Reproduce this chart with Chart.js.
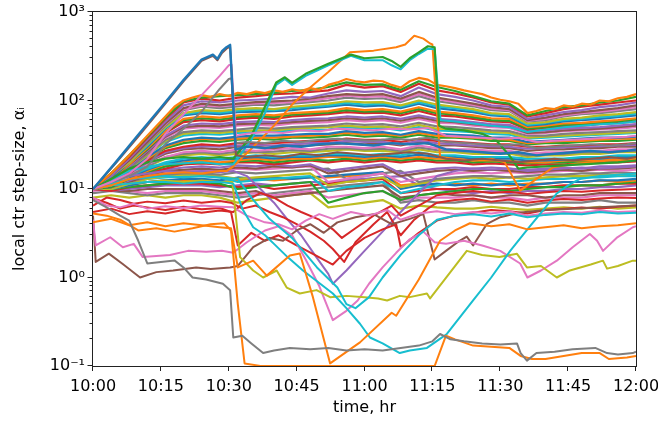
<!DOCTYPE html>
<html>
<head>
<meta charset="utf-8">
<script src="https://cdn.jsdelivr.net/npm/chart.js@4.4.1/dist/chart.umd.min.js"></script>
<style>
    html, body { margin:0; padding:0; background:#fff; }
</style>
</head>
<body>
<canvas id="myChart" width="658" height="423"></canvas>
<script>
// ============================================================
// DATA — minutes after 10:00, local step-size values
// ============================================================

const xTickMinutes = [0, 15, 30, 45, 60, 75, 90, 105, 120];
const yTickValues  = [0.1,0.2,0.3,0.4,0.5,0.6,0.7,0.8,0.9,
                      1,2,3,4,5,6,7,8,9,
                      10,20,30,40,50,60,70,80,90,
                      100,200,300,400,500,600,700,800,900,1000];

// shared time grid for the dense band of features
const bandTimes = [0,4,8,12,16,20,24,28,32,36,40,44,48,52,56,60,64,68,72,76,80,84,88,92,96,100,104,108,112,116,120];

const bandLines = [
    [10,15,24,39,64,98,108,112,115,118,122,128,132,142,160,150,152,132,165,142,128,112,98,92,68,76,84,88,95,100,110],
    [10,15,23,38,62,95,105,100,108,112,118,120,125,130,150,140,145,125,155,130,120,108,95,90,66,72,80,85,90,95,100],
    [10,14,22,36,58,88,98,95,100,102,105,110,108,120,130,125,128,112,140,118,110,100,88,85,62,68,74,78,84,88,95],
    [10,14,21,34,55,82,92,88,92,96,98,100,105,112,118,115,118,105,125,108,100,92,84,80,60,64,70,74,78,82,88],
    [10,14,21,34,54,80,88,86,90,93,94,96,100,106,114,110,112,100,118,104,96,89,81,78,59,62,68,72,75,79,84],
    [10,14,21,33,52,78,85,82,86,90,88,92,96,100,108,104,106,96,112,98,92,86,78,76,58,60,66,70,72,76,80],
    [10,14,20,32,50,72,78,76,80,82,80,85,88,92,98,95,96,88,100,90,85,80,72,70,55,57,62,64,68,70,74],
    [10,14,20,31,49,70,75,73,77,79,78,82,85,88,94,90,92,85,96,86,82,77,70,68,53,56,60,62,65,67,71],
    [10,13,20,30,48,68,72,70,74,75,76,78,82,85,90,86,88,82,92,82,78,74,68,66,52,54,58,60,62,65,68],
    [10,13,19,29,45,62,66,64,68,70,68,72,74,76,82,78,80,75,84,75,72,68,63,62,50,52,55,56,58,60,63],
    [10,13,19,28,44,60,63,61,65,67,65,69,71,73,78,75,76,72,80,72,69,65,60,59,48,50,53,54,56,58,61],
    [10,13,19,28,43,57,60,58,62,64,62,66,68,70,74,72,73,68,76,68,66,62,58,57,47,49,51,52,54,56,58],
    [10,13,18,27,40,52,55,54,57,58,57,60,62,63,66,64,66,62,68,62,60,57,54,53,45,46,48,49,50,52,54],
    [10,12,18,26,39,50,52,51,54,55,55,57,59,60,63,61,63,59,65,59,57,54,52,51,43,44,46,47,48,50,52],
    [10,12,18,26,38,48,50,49,52,53,52,55,56,57,60,58,60,56,62,56,55,52,50,49,42,43,45,46,47,48,50],
    [10,12,17,25,36,44,46,45,47,49,48,50,51,52,55,53,54,51,56,51,50,48,46,45,40,40,42,43,44,45,46],
    [10,12,17,24,35,42,44,43,45,46,46,48,49,50,52,50,51,48,53,48,47,46,44,43,38,39,40,41,42,43,44],
    [10,12,17,24,34,40,42,41,43,44,44,46,46,47,50,48,49,46,50,46,45,44,42,41,37,38,39,40,41,42,43],
    [10,12,16,23,31,36,38,37,39,40,40,41,42,42,45,43,44,41,45,42,41,40,38,38,34,35,36,37,38,38,39],
    [10,12,16,22,30,35,37,36,37,38,38,39,40,41,43,41,42,40,43,40,39,38,37,36,33,34,35,35,36,37,37],
    [10,12,16,22,29,33,35,34,36,37,36,38,38,39,41,39,40,38,41,38,38,37,35,35,32,33,33,34,35,35,36],
    [10,11,15,21,27,30,32,31,33,33,33,34,35,35,37,36,36,34,37,35,34,33,32,32,30,30,31,31,32,32,33],
    [10,11,15,20,26,29,30.5,30,31,31.5,31,32,33,33,35,34,34,32,35,33,32,31,30.5,30,28.5,29,29.5,30,30.5,31,31.5],
    [10,11,15,20,25,28,29,28,30,30,29,31,31,32,33,32,33,31,34,31,31,30,29,29,27,28,28,29,29,30,30],
    [10,11,14,19,23,26,27,26,28,27,28,29,28,30,30,29,30,28,31,29,28,28,27,27,25,26,26,27,27,28,28],
    [10,11,14,18,23,25,26,25,26.5,26,26.5,27.5,27,28.5,29,28,28.5,27,29.5,27.5,27,26.5,26,26,24,25,25,26,26,27,27],
    [10,11,14,18,22,24,25,24,25,26,25,26,26,27,28,27,27,26,28,26,26,25,25,25,23,24,24,25,25,26,26],
    [10,11,14,17,20,22,23,22,23,24,23,24,24,25,25,24,25,24,26,24,24,23,23,23,22,22,22,23,23,24,24],
    [10,11,13.5,16.5,19.5,21,22,21.5,22,23,22,23,23,24,24,23,24,23,24.5,23,23,22,22,22,21,21,21.5,22,22,23,23],
    [10,11,13,16,19,20,21,20,21,22,21,22,22,23,23,22,23,22,23,22,22,21,21,21,20,20,21,21,21,22,22],
    [10,10.5,13,15.5,18,19.5,20,19.5,20.5,21,20,21,21.5,21,22,21,22,21,22,21,21,20,20.5,20,19.5,20,20,20.5,21,21,21.5],
    [10,11,13,15,17,19,19.5,19,20,20,19,20,21,20,21,20,21,20,21,20,20,19,19.5,19,18.5,19,19,19.5,20,20,20.5],
    [10,10.5,12.5,14.5,16.5,17.5,18,17.5,18.5,18,19,18,19,16,17,18,19,15,16,17,17.5,17,17.5,17,16.5,17,17.5,17,18,18,18.5],
    [10,10.5,12,14,16,16.5,17,16.5,17.5,17,18,17.5,18.5,15,16,17,18,14,15,16,16.5,16,16.5,16,15.5,16,16.5,16,17,17,17.5],
    [10,10.5,12,14,15.5,16,16.5,16,17,16.5,17,17.5,18,12,13,14,15,12,13,14,15,15.5,15,15.5,15,15.5,16,16,16.5,16,16.5],
    [10,10.5,12,13.5,14.5,15,15,14.5,15.5,15,15.5,16,16.5,17,13,14,15,16,12,13,13.5,14,14,13.5,14,14.5,14.5,15,15,15.5,15],
    [10,10,11.5,13,14,14.5,14.5,14,13,13.5,14,14.5,15,11,12,12.5,13.5,10.5,11.5,12.5,13,13.5,13,13.5,13,13.5,14,14,14.5,14.5,15],
    [10,10,11.5,13,13.5,14,14,13.5,12,12.5,13,13.5,14,9.5,10.5,11,12,9,10,11,12,12.5,12.5,12,12.5,13,13,13.5,13.5,14,14],
    [10,10,11,12,12.5,13,13,12.5,13.5,13,13.5,13,13.5,14,14.5,15,15.5,10,11,11.5,11,11.5,11,11.5,11,11.5,12,12,12.5,12.5,13],
    [10,10,11,12,12.5,12.5,12.5,12,12.5,13,12.5,13,13.5,13.5,14,14.5,15,11,11.5,11,11.5,11,11.5,11,11.5,11.5,12,12,12.5,12,12.5],
    [10,10,10.5,11,11.5,12,12,11.5,10,10.5,11,11.5,12,7,8,9,9.5,7.5,8.5,9,9.5,10,10,9.5,10,10.5,10.5,11,11,11.5,12],
    [10,9.5,10.5,11,11.5,11.5,11.5,11,10.5,11,10,10.5,11,11.5,12,12.5,13,9,9.5,10,10,10.5,10,10,10.5,10.5,11,11,11,11.5,11.5],
    [10,9.5,10,10.5,11,11,11,10.5,11,11.5,11,11.5,12,12,12.5,13,13.5,14,11,10,9.5,9,9.5,9,9.5,9.5,10,10,10.5,10.5,11],
    [10,9.5,9.5,10,10,10,10,9.5,9,9.5,8,8.5,9,9.5,10,10.5,11,8,8.5,9,8.5,8.5,8,8.5,8.5,8,8.5,8.5,9,9,9],
    [9.5,10,9.5,9,9.5,9.5,9.5,9,8.5,9,8.5,9,9.5,8,8.5,9,9.5,7.5,8,8,8,8.5,8,8,7.5,8,8,8,8.5,8.5,8.5],
    [9,9.5,9,8.5,9,9,9,8.5,8,8.5,9,9.5,10,10.5,11,11.5,12,7,7.5,7,7,7.5,7,7,6.5,7,7,7,7.5,7,7],
    [8,8.5,8,8.5,8,8.5,8.5,8,7,7.5,8,8.5,9,6.2,6.6,7,7.5,6,6.5,6.2,6,6,6.3,6,5.8,6,6.2,6,6.3,6,6.2]
];

// individual features, [minute, value]
const topLine = [[0,10],[4,15],[8,24],[12,40],[16,66],[18,85],[20,100],[22,108],[24,115],[26,110],[28,118],[30,112],[32,122],[34,118],[36,126],[38,121],[40,130],[42,125],[44,134],[46,128],[48,138],[50,132],[52,150],[54,160],[56,175],[58,165],[60,160],[62,168],[64,165],[66,150],[68,140],[70,165],[72,180],[74,172],[76,150],[78,145],[80,138],[82,130],[84,124],[86,118],[88,108],[90,102],[92,98],[94,92],[96,72],[98,76],[100,82],[102,80],[104,88],[106,85],[108,92],[110,90],[112,100],[114,98],[116,106],[118,110],[120,118]];
const blueSpike = [[0,10],[5,20],[10,41],[15,83],[20,170],[24,290],[26.5,330],[27.5,295],[28.5,360],[29.5,400],[30.3,425],[31.5,28],[34,30],[38,29],[42,31],[46,30],[50,32],[54,33],[58,32],[62,31],[66,33],[70,32],[74,33],[78,28],[82,27],[86,26],[90,25],[94,26],[98,24],[102,25],[106,26],[110,27],[114,26],[118,27],[120,28]];
const brownSpike = [[0,10],[5,19.5],[10,39],[15,80],[20,165],[24,280],[26.5,320],[27.5,285],[28.5,345],[29.5,385],[30.3,405],[31.6,24],[34,23],[38,24],[42,23],[46,25],[50,24],[54,26],[58,25],[62,24],[66,25],[70,26],[74,25],[78,22],[82,21],[86,22],[90,21],[94,20],[98,21],[102,22],[106,21],[110,22],[114,23],[118,22],[120,23]];
const pinkSpike = [[0,10],[4,12],[8,15],[12,22],[16,42],[20,70],[24,115],[28,190],[30,250],[30.6,255],[31.6,40],[34,42],[38,44],[42,43],[46,46],[50,45],[54,48],[58,47],[62,46],[66,48],[70,47],[74,49],[78,40],[82,39],[86,38],[90,37],[94,38],[98,34],[102,35],[106,36],[110,37],[114,38],[118,39],[120,40]];
const graySpike = [[0,10],[4,12],[8,14],[12,18],[16,32],[20,48],[24,75],[28,135],[30,175],[30.6,178],[31.6,33],[34,34],[38,33],[42,35],[46,34],[50,36],[54,37],[58,36],[62,35],[66,37],[70,36],[74,38],[78,34],[82,33],[86,32],[90,31],[94,32],[98,29],[102,30],[106,31],[110,32],[114,31],[118,32],[120,33]];
const greenRise = [[0,10],[4,13],[8,17],[12,20],[16,22],[20,23],[24,22],[28,23],[31,22],[35,40],[38,85],[40.5,160],[42.4,183],[44,158],[47,200],[52,260],[57,330],[60,300],[64,310],[66,280],[68,240],[70,300],[72,350],[74,410],[75.5,400],[76.5,52],[78,48],[82,46],[86,42],[89,36],[92,24],[94,17],[96,17.5],[100,18],[104,18.5],[108,19],[112,19.5],[116,20],[120,21]];
const cyanRise = [[0,10],[4,12.5],[8,16],[12,18],[16,19],[20,19.5],[24,20],[28,19],[31,19],[35,36],[38,72],[40.5,150],[42.4,175],[44,150],[47,190],[52,250],[57,320],[60,285],[64,285],[66,250],[68,225],[70,285],[72,335],[74,385],[75.5,380],[76.8,60],[80,58],[84,55],[88,52],[92,50],[96,44],[100,47],[104,50],[108,52],[112,54],[116,55],[120,58]];
const orangeRise = [[0,10],[4,11],[8,13],[12,14],[16,15],[20,15.5],[24,15],[28,16],[29.6,16],[31,18],[36,32],[40,52],[44,90],[48,140],[52,210],[56.8,350],[62,366],[67,400],[69,430],[71,540],[72,520],[73,500],[74.5,440],[75,430],[76.7,23],[80,22],[84,21],[88,22],[91,20],[94.4,9.6],[98,13],[101.7,17.6],[106,19],[110,20],[114,21],[118,21],[120,22]];
const grayLow = [[0,7.5],[3,6.2],[6,5],[8,4.4],[10,2.6],[12,1.44],[15,1.5],[18,1.56],[20,1.3],[22,1.0],[25,0.95],[28.7,0.85],[30.3,0.72],[31,0.21],[33,0.22],[35,0.18],[37.6,0.14],[40,0.15],[43.5,0.16],[48,0.155],[52,0.16],[56,0.15],[60,0.155],[64,0.15],[68,0.16],[72,0.17],[75,0.19],[76.7,0.23],[79,0.2],[82,0.19],[86,0.18],[90,0.175],[93.7,0.18],[94.5,0.14],[95.9,0.115],[98,0.14],[102,0.145],[106,0.155],[111,0.16],[113.6,0.14],[116,0.135],[119.3,0.14],[120,0.145]];
const orangeLow = [[0,5.3],[3,5],[6,4.5],[10,3.4],[14,3.6],[18,3.3],[22,3.6],[26,4.0],[29,4.1],[30.5,3.4],[32,0.5],[33.5,0.107],[37,0.1],[40,0.1],[45,0.1],[50,0.1],[55,0.1],[60,0.1],[65,0.1],[70,0.1],[75.5,0.1],[78,0.22],[80,0.2],[84,0.17],[88,0.165],[92,0.16],[94.5,0.13],[97,0.12],[100,0.12],[104,0.13],[108,0.14],[112,0.14],[114,0.12],[118,0.125],[120,0.13]];
const orangeRamp = [[0,4.2],[4,4.6],[8,3.9],[12,4.2],[16,3.8],[20,4.1],[24,3.9],[28,3.7],[30.5,3.6],[32,1.3],[35.4,1.55],[38.4,1.05],[43.5,1.77],[45.7,1.87],[48.6,0.6],[52.4,0.107],[59,0.185],[66,0.4],[67,0.37],[72,0.95],[76.7,2.6],[80,3.4],[83.3,4.1],[88,3.8],[92,4.0],[96,3.5],[100,3.7],[104,3.9],[108,3.6],[112,3.8],[116,3.9],[120,4.1]];
const cyanLow = [[0,10],[4,11],[8,11.5],[12,12],[16,12],[20,11.5],[24,12],[28,12],[31,11.5],[33,6],[35.4,3.7],[38,3.0],[40,2.4],[43,1.7],[46.4,1.2],[49,0.95],[53,0.66],[56,0.45],[59,0.3],[61.2,0.21],[64,0.18],[67.8,0.14],[70,0.15],[73.8,0.16],[76.5,0.2],[78.2,0.23],[84,0.55],[88,1.0],[92.2,2.0],[96,3.5],[100,6.2],[102.5,8.9],[105,11],[107.6,13],[112,14],[116,14.5],[120,15]];
const cyanDip = [[0,10],[4,11.5],[8,13],[12,13.5],[16,14],[20,13.5],[24,14],[28,13.5],[32,13],[35,8],[39,4.6],[44,2.8],[49.5,1.3],[54,0.77],[56,0.5],[58,0.45],[61,0.6],[64,1.0],[68,1.8],[72,3.0],[76,4.5],[80,5.0],[84,5.2],[88,4.9],[92,5.3],[96,4.8],[100,5.1],[104,5.3],[108,5.2],[112,5.5],[116,5.3],[120,5.4]];
const oliveLow = [[0,10],[4,11],[8,11.5],[12,12],[16,12.5],[20,12],[24,12.5],[28,12],[30.8,12],[32.5,1.7],[35.4,1.2],[37.6,1.0],[40.6,1.2],[42.8,0.77],[45.7,0.66],[49.4,0.72],[52.4,0.6],[56,0.62],[60,0.6],[63,0.58],[65,0.55],[67.8,0.62],[70,0.6],[73.8,0.66],[74.5,0.58],[82.6,2.0],[86,1.8],[89.8,1.7],[93.7,1.85],[95.9,1.3],[99,1.35],[102.5,1.0],[105.4,1.2],[110,1.4],[112.7,1.55],[113.6,1.26],[116,1.35],[119.3,1.55],[120,1.55]];
const pinkLow = [[0,4.5],[0.6,2.3],[3.8,2.85],[6.6,2.2],[9,2.4],[11,1.7],[14,1.75],[17,1.8],[21,2.0],[25,1.95],[28.5,2.0],[31,1.9],[34,2.5],[38,3.4],[41,3.8],[44,3.0],[47,1.6],[50,0.8],[53,0.33],[56,0.42],[58.5,0.55],[61,0.85],[64,1.3],[67,1.9],[70,2.7],[73,3.3],[75.5,2.5],[78,2.4],[82,2.6],[86,2.3],[90,2.0],[94.4,1.44],[96,1.0],[99,1.2],[102.5,1.55],[106,2.2],[109.8,3.1],[111.4,2.6],[112.7,2.0],[115.7,2.8],[119.3,3.7],[120,3.8]];
const pinkMid = [[0,8],[3,6.5],[6,6.2],[9,6.8],[12,6.0],[16,6.4],[20,6.1],[24,6.5],[28,6.3],[31,6.2],[34,5],[38,4.2],[41,4.0],[44,3.5],[47,4.4],[50,5.2],[53,4.6],[57,5.5],[61,5.0],[65,5.8],[68,4.5],[72,5.3],[76,5.6],[80,5.2],[84,5.5],[88,5.3],[92,5.6],[96,5.0],[100,5.3],[104,5.5],[108,5.4],[112,5.7],[116,5.5],[120,5.6]];
const brownLow = [[0,5],[0.6,1.5],[3.5,1.86],[6.5,1.43],[10.4,1.0],[14,1.15],[17.7,1.2],[22.8,1.3],[26,1.25],[30.3,1.3],[32,1.35],[35.4,2.2],[39,2.8],[42,2.6],[45,3.4],[48,4.0],[51,3.2],[54,4.2],[58,4.8],[62,5.2],[66,4.0],[70,4.6],[73,5.2],[75.5,1.6],[78,2.0],[81,2.6],[82.6,2.9],[84,2.3],[87,4.0],[90,4.8],[94,5.4],[100,5.8],[106,6.0],[112,6.2],[120,6.5]];
const redA = [[0,7.8],[3,7],[6,6],[9,6.5],[12,6.2],[16,5.8],[20,6.3],[24,5.9],[28,6.1],[30.5,5.5],[32,2.3],[35,3.2],[38,2.6],[41,3.0],[45,2.3],[49,1.8],[53,1.4],[56,2.0],[60,2.8],[64,3.5],[67,4.0],[68,2.2],[72,3.2],[76,4.4],[80,5.0],[84,5.4],[88,5.8],[92,5.6],[96,5.3],[100,5.8],[104,6.0],[108,6.2],[112,6.0],[116,6.3],[120,6.5]];
const redB = [[0,6.5],[3,8],[6,7.5],[9,6.8],[12,7.2],[16,6.9],[20,7.4],[24,7.0],[28,7.3],[30.5,7.0],[33,6],[36,6.5],[39,5.5],[42,4.8],[45,4.0],[48,3.3],[51,2.6],[53,2.1],[55.5,1.5],[58,2.5],[62,4.0],[65,5.5],[68,3.0],[71,4.5],[74,6.0],[76,7.0],[80,7.5],[84,7.8],[88,7.2],[92,7.6],[96,7.0],[100,7.4],[104,7.7],[108,7.5],[112,7.8],[116,8.0],[120,7.9]];
const redC = [[0,5.5],[4,6],[8,5.2],[12,5.6],[16,5.3],[20,5.8],[24,5.4],[28,5.7],[31,5.5],[34,7.5],[37,9],[40,8],[43,6.5],[46,5.5],[50,4.5],[53,3.5],[55,2.8],[58,3.6],[62,5],[66,6.5],[68,5],[72,6.5],[76,8.5],[80,9],[84,9.5],[88,9],[92,9.3],[96,8.8],[100,9.2],[104,9.5],[108,9.3],[112,9.6],[116,9.8],[120,10]];
const purpleDip = [[0,10],[4,12],[8,14],[12,15],[16,16],[20,15.5],[24,16],[28,15.5],[31,16],[34,14],[37,10],[40,7],[43,4.5],[46,3],[49,1.8],[52,1.1],[53,0.85],[56,1.2],[60,2.0],[64,3.3],[68,5.5],[72,9],[76,14],[80,16],[84,17],[88,16.5],[92,17],[96,16],[100,16.5],[104,17],[108,17.5],[112,17],[116,17.5],[120,18]];

// ============================================================
// CHART
// ============================================================

const palette = ['#1f77b4','#ff7f0e','#2ca02c','#d62728','#9467bd','#8c564b','#e377c2','#7f7f7f','#bcbd22','#17becf'];
const FONT = 'DejaVu Sans';
const SUP  = { '-1':'⁻¹', '0':'⁰', '1':'¹', '2':'²', '3':'³' };

function isDecade(v) {
    const e = Math.round(Math.log10(v));
    return Math.abs(v - Math.pow(10, e)) < 1e-9 * Math.pow(10, e);
}

function timeLabel(m) {
    const h  = 10 + Math.floor(m / 60);
    const mm = m % 60;
    return h + ':' + (mm < 10 ? '0' : '') + mm;
}

// features drawn on top come first (Chart.js paints index 0 last)
const features = [
    { data: blueSpike,  color: palette[0], width: 2.4 },
    { data: brownSpike, color: palette[5], width: 2.0 },
    { data: pinkSpike,  color: palette[6], width: 2.0 },
    { data: graySpike,  color: palette[7], width: 2.0 },
    { data: greenRise,  color: palette[2], width: 2.2 },
    { data: cyanRise,   color: palette[9], width: 2.0 },
    { data: orangeRise, color: palette[1], width: 2.0 },
    { data: grayLow,    color: palette[7], width: 2.0 },
    { data: orangeLow,  color: palette[1], width: 2.0 },
    { data: orangeRamp, color: palette[1], width: 2.0 },
    { data: cyanLow,    color: palette[9], width: 2.0 },
    { data: cyanDip,    color: palette[9], width: 2.0 },
    { data: oliveLow,   color: palette[8], width: 2.0 },
    { data: pinkLow,    color: palette[6], width: 2.0 },
    { data: pinkMid,    color: palette[6], width: 2.0 },
    { data: brownLow,   color: palette[5], width: 2.0 },
    { data: redA,       color: palette[3], width: 2.0 },
    { data: redB,       color: palette[3], width: 2.0 },
    { data: redC,       color: palette[3], width: 2.0 },
    { data: purpleDip,  color: palette[4], width: 2.0 },
    { data: topLine,    color: palette[1], width: 2.2 }
];

const datasets = [];
features.forEach(f => datasets.push({
    data: f.data.map(p => ({ x: p[0], y: p[1] })),
    borderColor: f.color,
    borderWidth: f.width
}));
bandLines.forEach((vals, i) => datasets.push({
    data: vals.map((v, j) => ({ x: bandTimes[j], y: v })),
    borderColor: palette[(i + 2) % 10],
    borderWidth: 2.2
}));

// frame + outward tick marks, matplotlib style
const frameTicks = {
    id: 'frameTicks',
    afterDraw(chart) {
        const { ctx, chartArea: a, scales: { x, y } } = chart;
        ctx.save();
        ctx.strokeStyle = '#222';
        ctx.lineWidth   = 1;
        ctx.strokeRect(a.left - 0.5, a.top - 0.5, a.right - a.left + 1, a.bottom - a.top + 1);
        ctx.beginPath();
        yTickValues.forEach(v => {
            const py  = Math.round(y.getPixelForValue(v)) - 0.5;
            const len = isDecade(v) ? 5 : 3;
            ctx.moveTo(a.left - len - 0.5, py);
            ctx.lineTo(a.left - 0.5, py);
        });
        xTickMinutes.forEach(m => {
            const px = Math.round(x.getPixelForValue(m)) - 0.5;
            ctx.moveTo(px, a.bottom);
            ctx.lineTo(px, a.bottom + 5);
        });
        ctx.stroke();
        ctx.restore();
    }
};

new Chart(document.getElementById('myChart'), {
    type: 'line',
    data: { datasets },
    options: {
        responsive: false,
        animation: false,
        events: [],
        layout: { padding: { top: 12, right: 22, left: 0, bottom: 0 } },
        elements: {
            point: { radius: 0 },
            line:  { tension: 0, borderJoinStyle: 'round', fill: false }
        },
        plugins: {
            legend:  { display: false },
            tooltip: { enabled: false }
        },
        scales: {
            x: {
                type: 'linear', min: 0, max: 120,
                afterBuildTicks: s => { s.ticks = xTickMinutes.map(v => ({ value: v })); },
                afterFit: s => { s.height = 57; s.paddingLeft = 0; s.paddingRight = 0; },
                grid:   { display: false, drawTicks: false },
                border: { display: false },
                ticks: {
                    color: '#000', padding: 11, maxRotation: 0, autoSkip: false,
                    font: { family: FONT, size: 16 },
                    callback: v => timeLabel(v)
                },
                title: {
                    display: true, text: 'time, hr', color: '#000',
                    font: { family: FONT, size: 16 },
                    padding: { top: 0, bottom: 6 }
                }
            },
            y: {
                type: 'logarithmic', min: 0.1, max: 1000,
                afterBuildTicks: s => { s.ticks = yTickValues.map(v => ({ value: v })); },
                afterFit: s => { s.width = 93; s.paddingTop = 0; s.paddingBottom = 0; },
                grid:   { display: false, drawTicks: false },
                border: { display: false },
                ticks: {
                    color: '#000', padding: 8, autoSkip: false,
                    font: { family: FONT, size: 16 },
                    callback: v => isDecade(v) ? '10' + SUP[String(Math.round(Math.log10(v)))] : ''
                },
                title: {
                    display: true, text: 'local ctr step-size, αᵢ', color: '#000',
                    font: { family: FONT, size: 16 },
                    padding: { top: 10, bottom: 0 }
                }
            }
        }
    },
    plugins: [frameTicks]
});
</script>
</body>
</html>
